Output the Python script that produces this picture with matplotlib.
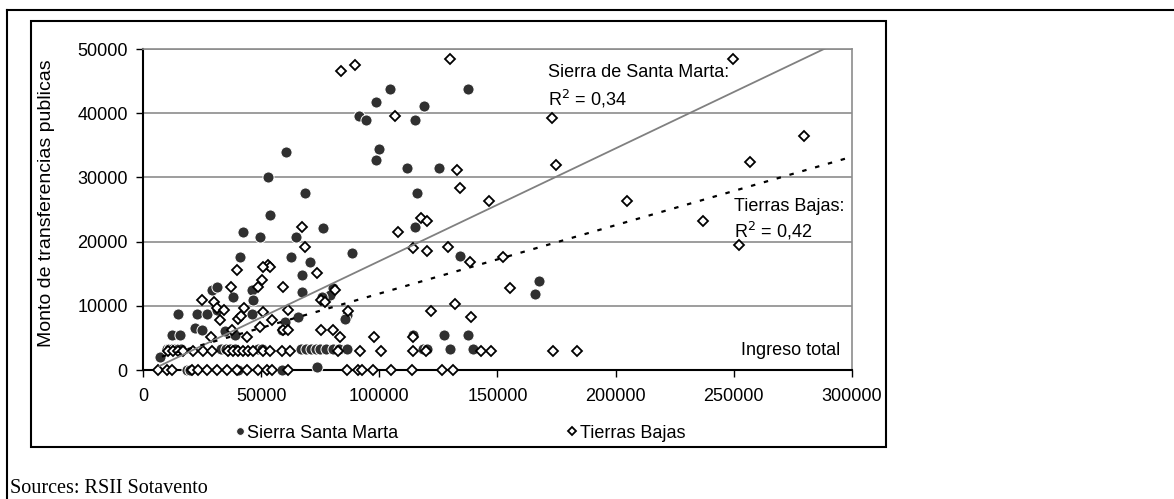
import matplotlib.pyplot as plt
from matplotlib.lines import Line2D
from matplotlib.patches import Rectangle
import numpy as np

plt.rcParams['font.family'] = ['Liberation Sans', 'DejaVu Sans']

############### Data #############
# Sierra Santa Marta: ingreso total / monto de transferencias publicas
sierra_x = [104500, 98500, 91500, 94200, 118900, 115100, 137700, 99900, 98500, 111600,
            125300, 115800, 76000, 115200, 88300, 134100, 60500, 53000, 68600, 53900,
            42400, 49500, 64700, 41000, 62600, 70700, 67200, 46000, 29100, 31300,
            38200, 46700, 67200, 14900, 22700, 26900, 31200, 22000, 24800, 12100,
            15700, 34700, 38900, 46000, 60100, 65700, 58700, 7200, 73500, 80500,
            79100, 86200, 85500, 75600, 114400, 127500, 137700, 165900, 167700,
            10000, 11200, 12400, 13600, 15000, 16200, 33000, 35000, 37000, 39000,
            48500, 50500, 67000, 69000, 71000, 73000, 75000, 77500, 80500, 83000,
            86500, 118600, 120000, 129900, 139800,
            18500, 20000, 40000, 59000]
sierra_y = [43800, 41700, 39600, 38900, 41100, 38900, 43800, 34400, 32700, 31400,
            31400, 27500, 22100, 22300, 18300, 17800, 34000, 30100, 27500, 24100,
            21500, 20700, 20700, 17600, 17600, 16900, 14800, 12500, 12500, 13000,
            11400, 10900, 12200, 8800, 8800, 8800, 9300, 6500, 6200, 5500,
            5500, 6000, 5500, 8800, 7500, 8300, 6200, 2100, 400, 12700,
            11700, 8600, 8000, 11400, 5500, 5500, 5500, 11900, 13800,
            3200, 3200, 3200, 3200, 3200, 3200, 3200, 3200, 3200, 3200,
            3200, 3200, 3200, 3200, 3200, 3200, 3200, 3200, 3200, 3200,
            3200, 3200, 3200, 3200, 3200,
            0, 0, 0, 0]

# Tierras Bajas
tierras_x = [83800, 89700, 129900, 106600, 249800, 173200, 279900, 256900, 174800, 132700,
             134200, 146400, 204700, 236800, 117500, 120300, 252000, 114400, 120000, 129200,
             108000, 152200, 138400, 67200, 68600, 53000, 53700, 50800, 39600, 73500,
             50200, 37200, 48800, 59100, 75300, 24800, 30000, 31200, 34400, 42700,
             50900, 61500, 32600, 40300, 41500, 54500, 49500, 59400, 61500, 75200,
             28800, 37500, 43900, 81300, 77000, 86900, 132000, 121900, 138700, 155300,
             80500, 83400, 97800, 114400,
             10700, 12800, 14900, 17000, 21200, 25400, 29000, 36000, 38200, 40300,
             42400, 44500, 46600, 50800, 53700, 58700, 62200, 82600, 91800, 100700,
             114400, 119800, 143000, 147300, 173400, 183800,
             6500, 10000, 12400, 20600, 23400, 27000, 31200, 35400, 39600, 43900,
             48800, 52300, 54500, 61200, 86200, 91100, 92500, 97500, 105000, 113700,
             126400, 131300]
tierras_y = [46600, 47500, 48400, 39500, 48500, 39200, 36500, 32400, 31900, 31200,
             28300, 26300, 26300, 23200, 23600, 23200, 19500, 19000, 18600, 19200,
             21500, 17600, 16800, 22300, 19100, 16400, 16100, 16000, 15600, 15100,
             14000, 13000, 13000, 12900, 10900, 10900, 10600, 9600, 9300, 9600,
             9100, 9300, 7800, 7900, 8400, 7800, 6700, 6200, 6200, 6200,
             5200, 6200, 5100, 12400, 10600, 9200, 10300, 9200, 8300, 12700,
             6200, 5200, 5200, 5200,
             3000, 3000, 3000, 3000, 3000, 3000, 3000, 3000, 3000, 3000,
             3000, 3000, 3000, 3000, 3000, 3000, 3000, 3000, 3000, 3000,
             3000, 3000, 3000, 3000, 3000, 3000,
             0, 0, 0, 0, 0, 0, 0, 0, 0, 0,
             0, 0, 0, 0, 0, 0, 0, 0, 0, 0,
             0, 0]

# linear trend lines (slope, intercept, start x)
sierra_trend = (0.1756, -600, 7000)
tierras_trend = (0.1066, 1240, 8000)

x_ticks = [0, 50000, 100000, 150000, 200000, 250000, 300000]
y_ticks = [0, 10000, 20000, 30000, 40000, 50000]

############### Visualize #############
fig = plt.figure(figsize=(11.74, 4.99), dpi=100)
ax = fig.add_axes([0.1218, 0.2585, 0.6039, 0.6433])

ax.plot(sierra_x, sierra_y, 'o', color='#303030', markersize=8,
        markeredgecolor='white', markeredgewidth=0.7, clip_on=False, zorder=3,
        label='Sierra Santa Marta')
ax.plot(tierras_x, tierras_y, 'D', color='black', markerfacecolor='white',
        markersize=5.2, markeredgewidth=1.3, clip_on=False, zorder=3.5,
        label='Tierras Bajas')

tx = np.array([sierra_trend[2], 300000])
ax.plot(tx, sierra_trend[0] * tx + sierra_trend[1], color='#808080', lw=1.3, zorder=4)
tx = np.array([tierras_trend[2], 300000])
ax.plot(tx, tierras_trend[0] * tx + tierras_trend[1], color='black', lw=1.6,
        linestyle=(0, (2, 4)), zorder=4)

ax.set_xlim(0, 300000)
ax.set_ylim(0, 50000)
ax.set_xticks(x_ticks)
ax.set_yticks(y_ticks)
ax.tick_params(direction='out', length=5, width=1, labelsize=13, pad=6)
ax.tick_params(axis='x', pad=8)

ax.yaxis.grid(True, color='#8c8c8c', lw=1.2)
ax.set_axisbelow(True)
for s in ['top', 'right']:
    ax.spines[s].set_color('#8c8c8c')
    ax.spines[s].set_linewidth(1.2)
for s in ['left', 'bottom']:
    ax.spines[s].set_linewidth(1.5)

ax.set_ylabel("Monto de transferencias publicas", fontsize=14)
ax.yaxis.set_label_coords(-0.124, 0.52)

ax.text(171500, 46300, "Sierra de Santa Marta:", fontsize=13, va='center')
ax.text(171500, 42200, "R$^2$ = 0,34", fontsize=13, va='center')
ax.text(250200, 25400, "Tierras Bajas:", fontsize=13, va='center')
ax.text(250200, 21700, "R$^2$ = 0,42", fontsize=13, va='center')
ax.text(295000, 3000, "Ingreso total", fontsize=13, va='center', ha='right')

fig.legend(loc='center', bbox_to_anchor=(0.392, 0.132), ncol=2, frameon=False,
           fontsize=13, handlelength=0.5, handletextpad=0.15, columnspacing=9.4,
           markerscale=0.7)

# frames round the chart
fig.add_artist(Rectangle((0.0264, 0.1042), 0.7283, 0.8538, transform=fig.transFigure,
                         fill=False, edgecolor='black', lw=1.5))
fig.add_artist(Line2D([0.006, 1.0], [0.98, 0.98], color='black', lw=1.5))
fig.add_artist(Line2D([0.006, 0.006], [0.0, 0.98], color='black', lw=1.5))

fig.text(0.0085, 0.012, "Sources: RSII Sotavento", fontsize=14.5,
         family=['Liberation Serif', 'DejaVu Serif'])

plt.savefig("out.png")
